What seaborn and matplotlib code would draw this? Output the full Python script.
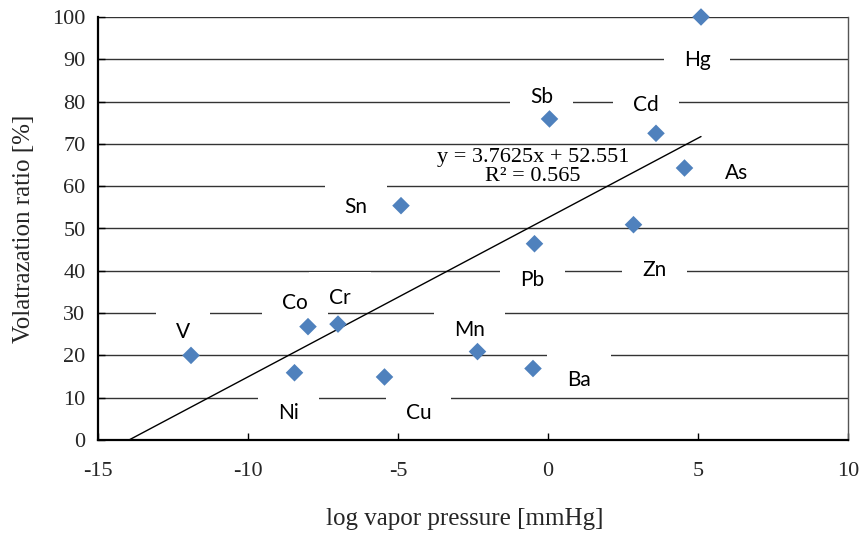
import numpy as np
import pandas as pd
import matplotlib
matplotlib.use("Agg")
import matplotlib.pyplot as plt
import seaborn as sns

# ---- data ----
elements = ["V", "Co", "Cr", "Ni", "Cu", "Sn", "Mn", "Ba", "Pb", "Sb", "Zn", "Cd", "As", "Hg"]
log_vapor = [-11.9, -8.0, -7.0, -8.45, -5.45, -4.9, -2.35, -0.5, -0.45, 0.05, 2.85, 3.6, 4.55, 5.1]
volat_ratio = [20.0, 26.8, 27.4, 15.9, 14.9, 55.4, 20.9, 16.9, 46.4, 75.9, 50.9, 72.5, 64.3, 100.0]
trend_slope = 3.7625
trend_intercept = 52.551
trend_r2 = 0.565
x_ticks = [-15, -10, -5, 0, 5, 10]
y_ticks = [0, 10, 20, 30, 40, 50, 60, 70, 80, 90, 100]

# label offsets in pixels (style only)
label_offsets = {
    "V": (-8, 23), "Co": (-13, 24), "Cr": (2, 26), "Ni": (-6, -40), "Cu": (34, -36),
    "Sn": (-45, -1), "Mn": (-8, 22), "Ba": (46, -11), "Pb": (-2, -36), "Sb": (-8, 22),
    "Zn": (21, -45), "Cd": (-10, 28), "As": (52, -5), "Hg": (-4, -43),
}

df = pd.DataFrame({"element": elements, "x": log_vapor, "y": volat_ratio})

sns.set_theme(style="white")
plt.rcParams["font.family"] = ["Liberation Serif", "DejaVu Serif"]

fig = plt.figure(figsize=(8.61, 5.34), dpi=100)
ax = fig.add_axes([98 / 861, 1 - 440 / 534, 750 / 861, 423 / 534])

# trend line
x0 = -trend_intercept / trend_slope
tx = np.array([x0, max(log_vapor)])
trend_df = pd.DataFrame({"x": tx, "y": trend_slope * tx + trend_intercept})
sns.lineplot(data=trend_df, x="x", y="y", ax=ax, color="black", linewidth=1.0, zorder=2)

# points
sns.scatterplot(data=df, x="x", y="y", ax=ax, marker="D", s=80, color="#4F81BD",
                edgecolor="none", linewidth=0, zorder=4, clip_on=False)

# labels with white masking boxes
for name, xv, yv in zip(elements, log_vapor, volat_ratio):
    dx, dy = label_offsets[name]
    ax.annotate(f"  {name}  ", (xv, yv), xytext=(dx, dy + 7), textcoords="offset pixels",
                ha="center", va="center", fontsize=14, family="Lato", color="white",
                bbox=dict(boxstyle="square,pad=0.55", fc="white", ec="none"), zorder=1)
for name, xv, yv in zip(elements, log_vapor, volat_ratio):
    dx, dy = label_offsets[name]
    ax.annotate(name, (xv, yv), xytext=(dx, dy), textcoords="offset pixels",
                ha="center", va="center", fontsize=15, family="Lato", color="black", zorder=3)

# equation
ax.text(0.58, 0.645, f"y = {trend_slope}x + {trend_intercept}\nR² = {trend_r2}",
        transform=ax.transAxes, ha="center", va="center", multialignment="center",
        fontsize=16, linespacing=1.0, color="black", zorder=3)

ax.set_xlim(-15, 10)
ax.set_ylim(0, 100)
ax.set_xticks(x_ticks)
ax.set_yticks(y_ticks)
ax.set_xticklabels([str(t) for t in x_ticks])
ax.set_yticklabels([str(t) for t in y_ticks])
ax.tick_params(axis="both", direction="in", length=5, width=1, color="black",
               labelsize=16)
ax.tick_params(axis="x", bottom=True, pad=16)
ax.tick_params(axis="y", left=True, pad=9)

ax.set_axisbelow(True)
ax.yaxis.grid(True, color="#333333", linewidth=1.0)
ax.xaxis.grid(False)

ax.spines["left"].set_color("black")
ax.spines["left"].set_linewidth(1.6)
ax.spines["bottom"].set_color("black")
ax.spines["bottom"].set_linewidth(1.6)
ax.spines["right"].set_color("#555555")
ax.spines["right"].set_linewidth(1.0)
ax.spines["top"].set_visible(False)
for s in ax.spines.values():
    s.set_zorder(2.5)

ax.set_xlabel("log vapor pressure [mmHg]", fontsize=18, labelpad=19)
ax.xaxis.label.set_x(0.489)
ax.set_ylabel("Volatrazation ratio [%]", fontsize=18, labelpad=12)

fig.savefig("out.png", dpi=100)
